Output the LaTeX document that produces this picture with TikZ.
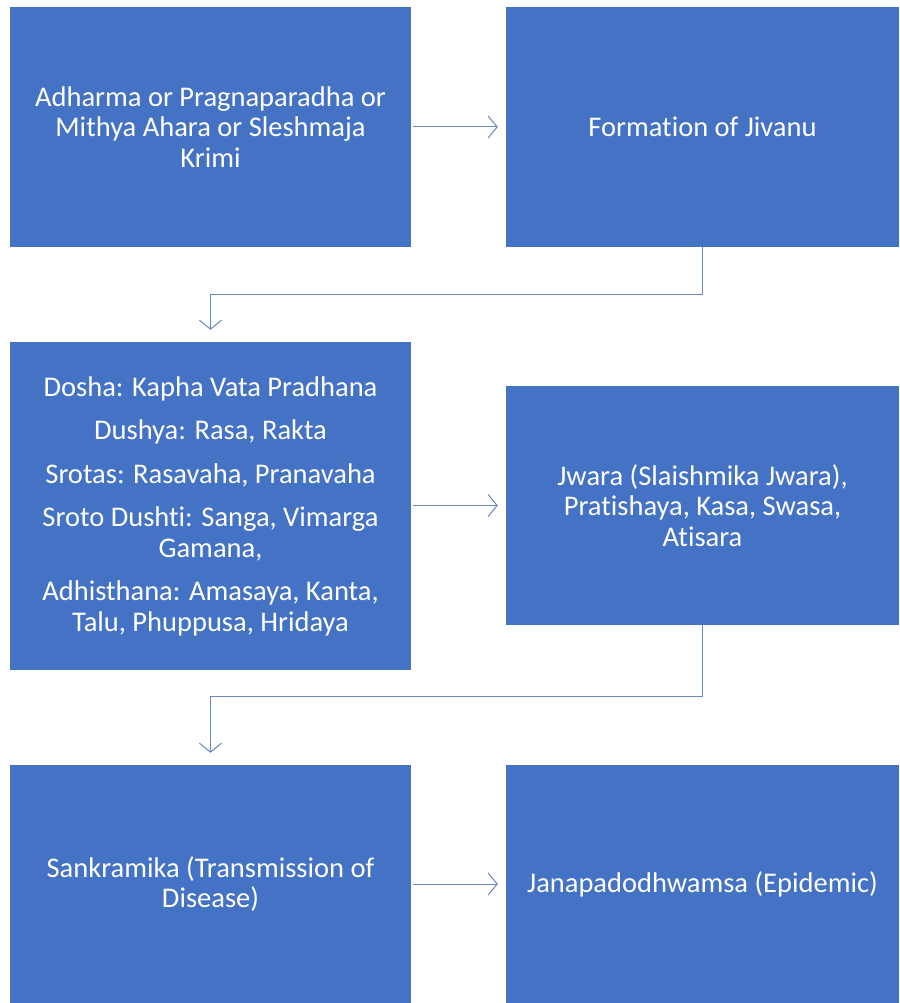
\documentclass[tikz,border=0pt]{standalone}
\usepackage{fontspec}
\setmainfont{Carlito}[Ligatures=NoCommon]
\usepackage{tikz}
\usetikzlibrary{arrows.meta,positioning,calc}
\definecolor{BoxBlue}{HTML}{4472C4}
\definecolor{LinkBlue}{HTML}{6A85BF}

\tikzset{
  stage/.style={fill=BoxBlue,draw=none,text=white,align=center,inner sep=0pt,
    font=\fontsize{28.5}{30.5}\selectfont},
  link/.style={LinkBlue,line width=1pt,-{Straight Barb[length=9pt,width=22pt]}}
}

\begin{document}
\begin{tikzpicture}[x=1pt,y=-1pt]
  \useasboundingbox (0,0) rectangle (899,1003);
  % top row
  \node[stage,minimum width=401pt,minimum height=240pt] (cause) at (210.5,127)
    {Adharma or Pragnaparadha or\\Mithya Ahara or Sleshmaja\\Krimi};
  \node[stage,minimum width=393pt,minimum height=240pt] (jivanu) at (702.5,127)
    {Formation of Jivanu};
  % middle row
  \node[stage,minimum width=401pt,minimum height=328pt] (samprapti) at (210.5,506)
    {Dosha: Kapha Vata Pradhana\\[13pt]
     Dushya: Rasa, Rakta\\[13pt]
     Srotas: Rasavaha, Pranavaha\\[13pt]
     Sroto Dushti: Sanga, Vimarga\\Gamana,\\[13pt]
     Adhisthana: Amasaya, Kanta,\\Talu, Phuppusa, Hridaya};
  \node[stage,minimum width=393pt,minimum height=239pt] (rupa) at (702.5,505.5)
    {Jwara (Slaishmika Jwara),\\Pratishaya, Kasa, Swasa,\\Atisara};
  % bottom row
  \node[stage,minimum width=401pt,minimum height=238pt] (sankramika) at (210.5,884)
    {Sankramika (Transmission of\\Disease)};
  \node[stage,minimum width=393pt,minimum height=238pt] (janapada) at (702.5,884)
    {Janapadodhwamsa (Epidemic)};

  \draw[link,shorten <=2pt,shorten >=8pt] (cause.east) -- (jivanu.west);
  \draw[link,shorten <=2pt,shorten >=8pt] (samprapti.east |- rupa.west) -- (rupa.west);
  \draw[link,shorten <=2pt,shorten >=8pt] (sankramika.east) -- (janapada.west);
  \draw[link,shorten >=12pt] (jivanu.south) -- ++(0,47) -| (samprapti.north);
  \draw[link,shorten >=12pt] (rupa.south) -- ++(0,71) -| (sankramika.north);
\end{tikzpicture}
\end{document}
